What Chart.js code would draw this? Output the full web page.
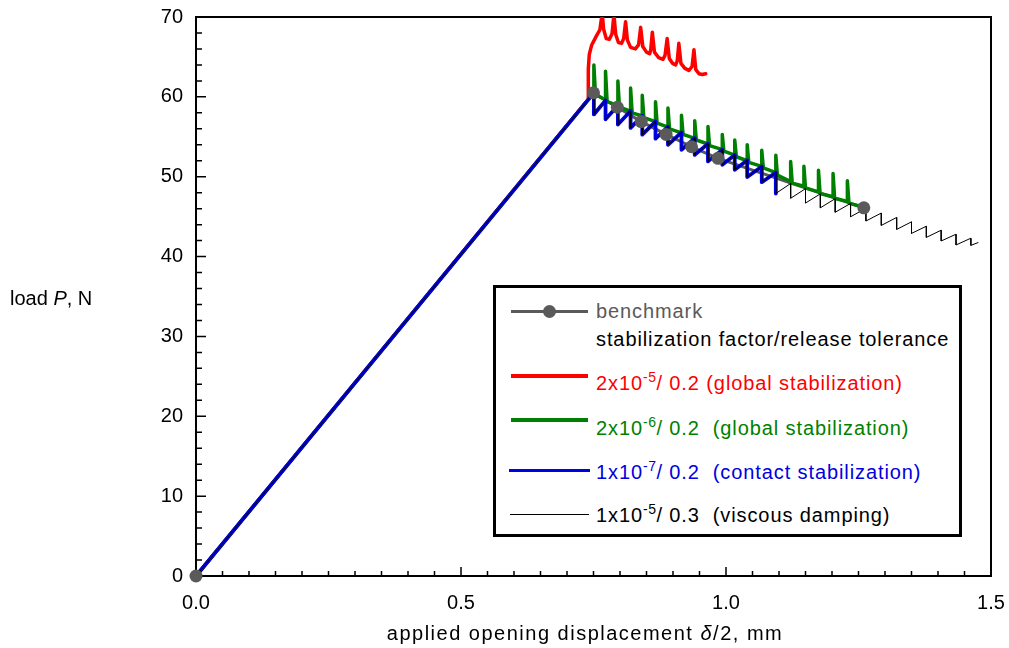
<!DOCTYPE html>
<html>
<head>
<meta charset="utf-8">
<script src="https://cdn.jsdelivr.net/npm/chart.js@4.4.1/dist/chart.umd.min.js"></script>
<style>
  body { margin: 0; background: #fff; }
  #wrap { position: relative; width: 1009px; height: 648px; font-family: "Liberation Sans", Arial, Helvetica, sans-serif; color: #000; }
  #c { position: absolute; left: 0; top: 0; }
  .t { position: absolute; font-size: 20px; line-height: 24px; white-space: nowrap; letter-spacing: 0.9px; }
  .t sup { font-size: 14px; vertical-align: 8px; line-height: 0; letter-spacing: 0.5px; }
  .lg { position: absolute; left: 493px; top: 285px; width: 463px; height: 246px; border: 3px solid #000; background: #fff; }
  .sw { position: absolute; }
</style>
</head>
<body>
<div id="wrap">
  <canvas id="c" width="1009" height="648"></canvas>
  <div class="t" style="left:10px; top:286px; letter-spacing:0px;">load <i>P</i>, N</div>
  <div class="t" style="left:335px; top:621px; width:500px; text-align:center; letter-spacing:1.5px;">applied opening displacement <i>δ</i>/2, mm</div>
  <div class="lg">
    <div class="sw" style="left:15px; top:22px; width:77px; height:3px; background:#5a5a5a;"></div>
    <div class="sw" style="left:47px; top:17px; width:13px; height:13px; border-radius:50%; background:#5a5a5a;"></div>
    <div class="t" style="left:100px; top:11px; color:#5a5a5a;">benchmark</div>
    <div class="t" style="left:100px; top:39px;">stabilization factor/release tolerance</div>

    <div class="sw" style="left:15px; top:86px; width:77px; height:3.5px; background:#ff0000;"></div>
    <div class="t" style="left:100px; top:83px; color:#ff0000;">2x10<sup>-5</sup>/ 0.2 (global stabilization)</div>

    <div class="sw" style="left:15px; top:130px; width:77px; height:3.5px; background:#008000;"></div>
    <div class="t" style="left:100px; top:128px; color:#008000;">2x10<sup>-6</sup>/ 0.2 &nbsp;(global stabilization)</div>

    <div class="sw" style="left:13px; top:181px; width:81px; height:2.5px; background:#0000e0;"></div>
    <div class="t" style="left:100px; top:172px; color:#0000e0;">1x10<sup>-7</sup>/ 0.2 &nbsp;(contact stabilization)</div>

    <div class="sw" style="left:14px; top:226px; width:79px; height:1px; background:#000;"></div>
    <div class="t" style="left:100px; top:215px;">1x10<sup>-5</sup>/ 0.3 &nbsp;(viscous damping)</div>
  </div>
</div>
<script>
// axis ticks
const xTickValues = [0, 0.5, 1.0, 1.5];
const xTickLabels = ['0.0', '0.5', '1.0', '1.5'];
const yTickValues = [0, 10, 20, 30, 40, 50, 60, 70];
const yTickLabels = ['0', '10', '20', '30', '40', '50', '60', '70'];

// benchmark
const benchX = [0, 0.750, 0.795, 0.840, 0.887, 0.935, 0.985, 1.260];
const benchY = [0, 60.5, 58.7, 56.9, 55.3, 53.75, 52.3, 46.1];

// 2e-5 / 0.2 global stabilization
const redX = [0, 0.740, 0.7402, 0.742, 0.7466, 0.756, 0.762, 0.7665, 0.769, 0.774, 0.780, 0.785, 0.7885, 0.792, 0.797, 0.803,
  0.807, 0.8105, 0.814, 0.820, 0.829, 0.835, 0.839, 0.843, 0.850, 0.856, 0.858, 0.861, 0.865, 0.873, 0.881, 0.885, 0.889,
  0.893, 0.899, 0.905, 0.908, 0.911, 0.915, 0.922, 0.930, 0.936, 0.9395, 0.943, 0.949, 0.955, 0.9617];
const redY = [0, 59.7, 63.5, 65.3, 66.5, 67.7, 68.4, 70.5, 68.5, 67.3, 67.2, 67.9, 70.3, 67.8, 66.8, 66.7,
  67.3, 69.4, 67.1, 66.2, 66.0, 66.5, 68.7, 66.3, 65.6, 65.4, 65.9, 68.1, 65.6, 64.9, 64.7, 65.2, 67.3,
  64.8, 64.2, 64.0, 64.5, 66.7, 64.2, 63.6, 63.3, 63.8, 65.9, 63.4, 62.9, 62.8, 62.9];

// 2e-6 / 0.2 global stabilization
const greenX = [0, 0.7507, 0.7507, 0.7537, 0.7727, 0.7727, 0.7757, 0.796, 0.796, 0.799, 0.820, 0.820, 0.823,
  0.842, 0.842, 0.845, 0.867, 0.867, 0.870, 0.8905, 0.8905, 0.8935, 0.916, 0.916, 0.919, 0.941, 0.941, 0.944,
  0.966, 0.966, 0.969, 0.993, 0.993, 0.996, 1.0165, 1.0165, 1.0195, 1.040, 1.040, 1.043, 1.0675, 1.0675, 1.0705,
  1.094, 1.094, 1.097, 1.122, 1.122, 1.125, 1.147, 1.147, 1.150, 1.1745, 1.1745, 1.1775, 1.202, 1.202, 1.205,
  1.229, 1.229, 1.232, 1.248];
const greenY = [0, 60.5, 64.0, 60.3, 59.6, 63.2, 59.4, 58.9, 62.0, 58.7, 58.2, 61.1, 58.0,
  57.6, 60.2, 57.4, 56.9, 59.4, 56.7, 56.2, 58.6, 56.0, 55.5, 57.7, 55.3, 54.8, 57.0, 54.6,
  54.1, 56.3, 53.9, 53.4, 55.3, 53.2, 52.7, 54.6, 52.5, 52.0, 54.0, 51.8, 51.3, 53.3, 51.1,
  50.5, 52.7, 50.2, 49.4, 51.9, 49.2, 48.8, 51.3, 48.6, 48.1, 50.8, 47.9, 47.5, 50.4, 47.3,
  46.9, 49.5, 46.7, 46.4];

// 1e-7 / 0.2 contact stabilization
const blueX = [0, 0.7507, 0.7507, 0.7727, 0.7727, 0.796, 0.796, 0.820, 0.820, 0.842, 0.842, 0.867, 0.867,
  0.8905, 0.8905, 0.916, 0.916, 0.941, 0.941, 0.966, 0.966, 0.993, 0.993, 1.0165, 1.0165, 1.040, 1.040,
  1.0675, 1.0675, 1.094, 1.094];
const blueY = [0, 60.5, 57.8, 59.56, 57.19, 58.91, 56.53, 58.23, 56.11, 57.61, 55.27, 56.91, 54.76,
  56.25, 53.99, 55.54, 53.37, 54.83, 52.73, 54.13, 51.92, 53.37, 51.49, 52.71, 50.87, 52.05, 49.96,
  51.28, 49.31, 50.53, 47.9];

// 1e-5 / 0.3 viscous damping
const blackX = [0, 0.7507, 0.7507, 0.7727, 0.7727, 0.796, 0.796, 0.820, 0.820, 0.842, 0.842, 0.867, 0.867,
  0.8905, 0.8905, 0.916, 0.916, 0.941, 0.941, 0.966, 0.966, 0.993, 0.993, 1.0165, 1.0165, 1.040, 1.040,
  1.0675, 1.0675, 1.094, 1.094, 1.122, 1.122, 1.150, 1.150, 1.178, 1.178, 1.206, 1.206, 1.235, 1.235,
  1.264, 1.264, 1.293, 1.293, 1.322, 1.322, 1.350, 1.350, 1.378, 1.378, 1.406, 1.406, 1.434, 1.434,
  1.462, 1.462, 1.4755];
const blackY = [0, 60.5, 57.8, 59.56, 57.19, 58.91, 56.53, 58.23, 56.11, 57.61, 55.27, 56.91, 54.76,
  56.25, 53.99, 55.54, 53.37, 54.83, 52.73, 54.13, 51.92, 53.37, 51.49, 52.71, 50.87, 52.05, 49.96,
  51.28, 49.31, 50.53, 47.9, 49.15, 47.3, 48.5, 46.7, 47.85, 46.1, 47.25, 45.55, 46.65, 44.98,
  46.05, 44.45, 45.45, 43.9, 44.9, 43.4, 44.35, 42.9, 43.8, 42.4, 43.3, 41.95, 42.8, 41.45,
  42.3, 41.4, 41.75];

const pts = (xs, ys) => xs.map((x, i) => ({ x, y: ys[i] }));
const FONT = '"Liberation Sans", Arial, Helvetica, sans-serif';

// inward ticks + frame, drawn under the curves
const frameTicks = {
  id: 'frameTicks',
  beforeDatasetsDraw(chart) {
    const { ctx, chartArea: a, scales: { x, y } } = chart;
    ctx.save();
    ctx.strokeStyle = '#000';
    ctx.lineWidth = 1.5;
    ctx.beginPath();
    for (let i = 0; i <= 30; i++) {
      const px = x.getPixelForValue(i * 0.05);
      const len = i % 10 === 0 ? 9 : 5;
      ctx.moveTo(px, a.bottom);
      ctx.lineTo(px, a.bottom - len);
    }
    for (let i = 0; i <= 35; i++) {
      const py = y.getPixelForValue(i * 2);
      const len = i % 5 === 0 ? 10 : 6;
      ctx.moveTo(a.left, py);
      ctx.lineTo(a.left + len, py);
    }
    ctx.stroke();
    ctx.lineWidth = 2;
    ctx.strokeRect(a.left, a.top, a.right - a.left, a.bottom - a.top);
    ctx.restore();
  }
};

const lineDs = (data, color, width) => ({
  data, borderColor: color, backgroundColor: color, borderWidth: width,
  pointRadius: 0, tension: 0, borderJoinStyle: 'round', borderCapStyle: 'round', fill: false
});

new Chart(document.getElementById('c'), {
  type: 'line',
  data: {
    datasets: [
      // benchmark dots on top, benchmark line at the bottom
      { data: pts(benchX, benchY), showLine: false, pointRadius: 6.5, pointBorderWidth: 0,
        pointBackgroundColor: '#5a5a5a', backgroundColor: '#5a5a5a', clip: false },
      lineDs(pts(blackX, blackY), '#000000', 1),
      lineDs(pts(blueX, blueY), '#0000e8', 3.8),
      lineDs(pts(greenX, greenY), '#008000', 3.5),
      lineDs(pts(redX, redY), '#ff0000', 3.5),
      lineDs(pts(benchX, benchY), '#5a5a5a', 3)
    ]
  },
  options: {
    responsive: false,
    animation: false,
    events: [],
    layout: { padding: { left: 136, top: 17, right: 18, bottom: 0 } },
    plugins: { legend: { display: false }, tooltip: { enabled: false } },
    scales: {
      x: {
        type: 'linear', min: 0, max: 1.5,
        grid: { display: false, drawTicks: false },
        border: { display: false },
        afterFit: s => { s.height = 72; s.paddingLeft = 0; s.paddingRight = 0; },
        afterBuildTicks: s => { s.ticks = xTickValues.map(v => ({ value: v })); },
        ticks: {
          padding: 15, color: '#000', font: { family: FONT, size: 20 },
          maxRotation: 0, autoSkip: false,
          callback: v => xTickLabels[xTickValues.indexOf(v)]
        }
      },
      y: {
        type: 'linear', min: 0, max: 70,
        grid: { display: false, drawTicks: false },
        border: { display: false },
        afterFit: s => { s.width = 60; s.paddingTop = 0; s.paddingBottom = 0; },
        afterBuildTicks: s => { s.ticks = yTickValues.map(v => ({ value: v })); },
        ticks: {
          padding: 13, color: '#000', font: { family: FONT, size: 20 },
          autoSkip: false,
          callback: v => yTickLabels[yTickValues.indexOf(v)]
        }
      }
    }
  },
  plugins: [frameTicks]
});
</script>
</body>
</html>
